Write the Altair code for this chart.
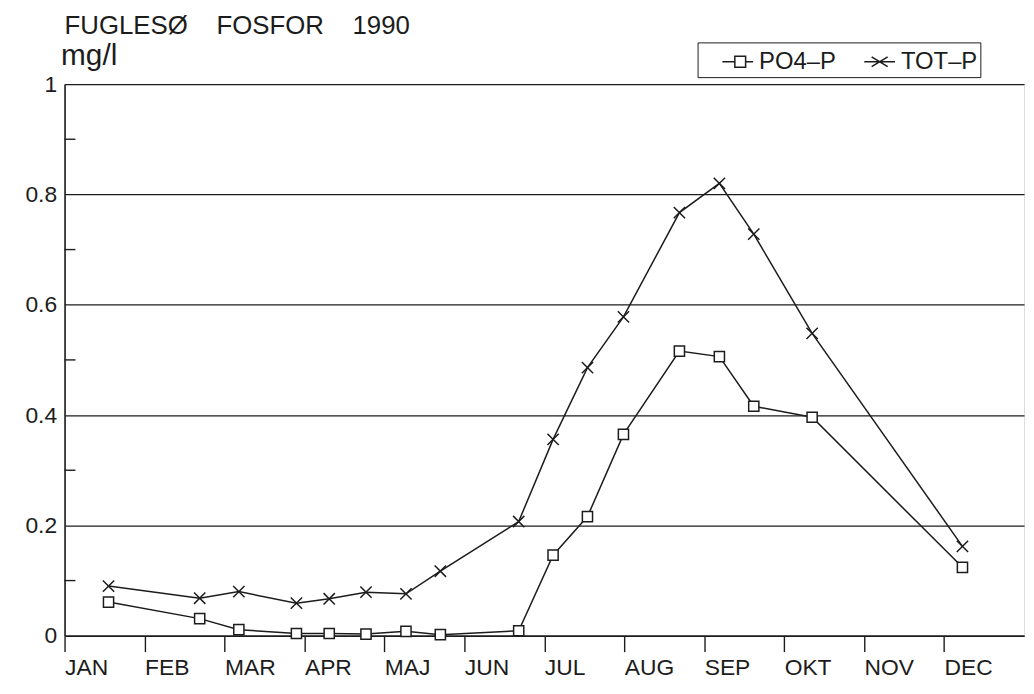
import altair as alt
import pandas as pd

# ---------------- data ----------------
months = ["JAN", "FEB", "MAR", "APR", "MAJ", "JUN", "JUL", "AUG", "SEP", "OKT", "NOV", "DEC"]
month_starts = list(range(12))
# sampling dates, as fractional month position (0 = start of January)
sample_pos = [0.55, 1.69, 2.18, 2.90, 3.31, 3.77, 4.27, 4.70, 5.68,
              6.11, 6.54, 6.99, 7.69, 8.19, 8.62, 9.35, 11.23]
po4_p = [0.061, 0.031, 0.011, 0.004, 0.004, 0.003, 0.008, 0.002, 0.009,
         0.146, 0.216, 0.365, 0.516, 0.506, 0.416, 0.396, 0.124]
tot_p = [0.090, 0.068, 0.080, 0.059, 0.067, 0.079, 0.076, 0.117, 0.207,
         0.356, 0.486, 0.578, 0.767, 0.820, 0.728, 0.548, 0.162]
series_names = ["PO4\u2013P", "TOT\u2013P"]
y_major = [0, 0.2, 0.4, 0.6, 0.8, 1.0]
y_minor = [0.1, 0.3, 0.5, 0.7, 0.9]
title_text = "FUGLES\u00d8\u00a0\u00a0\u00a0\u00a0FOSFOR\u00a0\u00a0\u00a0\u00a01990"

df = pd.DataFrame({
    "pos": sample_pos + sample_pos,
    "val": po4_p + tot_p,
    "series": [series_names[0]] * len(po4_p) + [series_names[1]] * len(tot_p),
})
minor_df = pd.DataFrame({"val": y_minor})

FONT = "Liberation Sans"
INK = "#1c1c1c"

month_expr = "[" + ",".join("'%s'" % m for m in months) + "][datum.value]"

x_scale = alt.Scale(domain=[0, 12], nice=False, zero=False)
y_scale = alt.Scale(domain=[0, 1], nice=False, zero=True)

x_axis = alt.Axis(
    values=month_starts, labelExpr=month_expr, labelAlign="left", labelFlush=False,
    labelOverlap=False, labelBaseline="top",
    tickSize=16, tickColor=INK, tickWidth=1.4, domainColor=INK, domainWidth=1.6,
    labelFontSize=23, labelFont=FONT, labelColor=INK, labelPadding=5,
    grid=False, title=None)

y_axis = alt.Axis(
    values=y_major, format="~g", grid=True, gridColor=INK, gridWidth=1.3,
    ticks=False, domainColor=INK, domainWidth=1.6, labelFlush=False,
    labelFontSize=23, labelFont=FONT, labelColor=INK, labelPadding=8,
    title="mg/l", titleAngle=0, titleAlign="left", titleBaseline="alphabetic",
    titleX=-4, titleY=-20, titleFontSize=30, titleFontWeight="normal",
    titleFont=FONT, titleColor=INK)

x_enc = alt.X("pos:Q", scale=x_scale, axis=x_axis)
y_enc = alt.Y("val:Q", scale=y_scale, axis=y_axis)

lines = alt.Chart(df).mark_line(color=INK, strokeWidth=1.5).encode(
    x=x_enc, y=y_enc, detail="series:N")

minor = alt.Chart(minor_df).mark_rule(color=INK, strokeWidth=1.4).encode(
    y=y_enc, x=alt.value(0), x2=alt.value(11))

squares = alt.Chart(df).transform_filter(
    alt.datum.series == series_names[0]
).mark_point(shape="square", size=105, filled=True, fill="white", stroke=INK,
             strokeWidth=1.5, opacity=1).encode(x=x_enc, y=y_enc)

crosses = alt.Chart(df).transform_filter(
    alt.datum.series == series_names[1]
).mark_point(shape="M-1,-1L1,1M-1,1L1,-1", size=130, filled=False, stroke=INK,
             strokeWidth=1.5, opacity=1).encode(x=x_enc, y=y_enc)

leg_sq = "M-1,0H-0.19M0.51,0H1M-0.19,-0.35H0.51V0.35H-0.19Z"
leg_x = "M-1,0H1M-0.52,-0.32L0.52,0.32M-0.52,0.32L0.52,-0.32"

legend_layer = alt.Chart(df).transform_filter("false").mark_point(
    filled=False, color=INK, strokeWidth=1.5
).encode(
    x=x_enc, y=y_enc,
    shape=alt.Shape("series:N", scale=alt.Scale(domain=series_names, range=[leg_sq, leg_x]),
                    legend=alt.Legend(
                        orient="none", legendX=638, legendY=-42, direction="horizontal",
                        title=None, strokeColor=INK, padding=3,
                        symbolSize=961, symbolOffset=21, labelOffset=5,
                        symbolStrokeColor=INK, symbolFillColor="transparent",
                        symbolStrokeWidth=1.5, symbolOpacity=1,
                        labelFont=FONT, labelFontSize=24, labelColor=INK,
                        columnPadding=6, gridAlign="none", labelLimit=600,
                    )))

chart = alt.layer(lines, minor, squares, crosses, legend_layer).properties(
    width=967, height=556,
    autosize=alt.AutoSizeParams(type="none"),
    padding={"left": 57, "top": 74, "right": 2, "bottom": 50},
    title=alt.TitleParams(title_text, anchor="start", frame="group", fontSize=26,
                          font=FONT, fontWeight="normal", color=INK, offset=1),
).configure_view(stroke="transparent", strokeWidth=0).configure(background="white")

chart.save("out.html", embed_options={"renderer": "svg", "actions": False})
